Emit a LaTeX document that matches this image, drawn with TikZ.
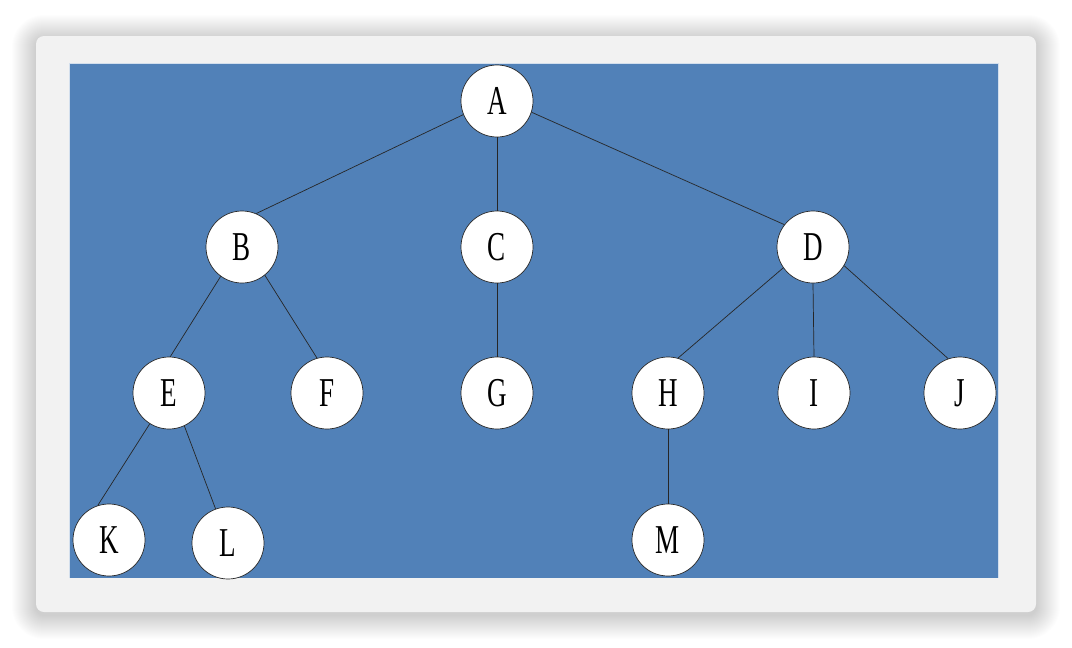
\documentclass[tikz,border=0pt]{standalone}
\usepackage{fontspec}
\setmainfont{Liberation Serif}
\definecolor{panelblue}{HTML}{5181B8}
\definecolor{cardgray}{HTML}{F2F2F2}
\begin{document}
\begin{tikzpicture}[x=1pt,y=-1pt,
  tnode/.style={circle,fill=white,draw=black!85,line width=0.7pt,minimum size=72pt,inner sep=0pt,
    font=\fontsize{41}{41}\selectfont},
  tedge/.style={draw=black!85,line width=0.7pt}]
\useasboundingbox[fill=white] (0,0) rectangle (1072,648);
% soft shadow
\foreach \i in {1,...,24}{
  \fill[black,opacity=0.0065,rounded corners=8pt+\i pt] (36-\i,39-\i) rectangle (1036+\i,615+\i);
}
\fill[cardgray,rounded corners=8pt] (36,36) rectangle (1036,612);
\fill[panelblue] (69,63) rectangle (998,578);
\draw[white!75!panelblue,line width=0.8pt] (69,578) -- (69,63) -- (998,63) -- (998,578);
% nodes
\newcommand{\lbl}[1]{\scalebox{0.66}[1]{#1}}
\node[tnode] (A) at (497,101) {\lbl{A}};
\node[tnode] (B) at (242,247) {\lbl{B}};
\node[tnode] (C) at (497,247) {\lbl{C}};
\node[tnode] (D) at (813,247) {\lbl{D}};
\node[tnode] (E) at (169,393) {\lbl{E}};
\node[tnode] (F) at (327,393) {\lbl{F}};
\node[tnode] (G) at (497,393) {\lbl{G}};
\node[tnode] (H) at (668,393) {\lbl{H}};
\node[tnode] (I) at (814,393) {\lbl{I}};
\node[tnode] (J) at (960,393) {\lbl{J}};
\node[tnode] (K) at (109,540) {\lbl{K}};
\node[tnode] (L) at (228,543) {\lbl{L}};
\node[tnode] (M) at (668,540) {\lbl{M}};
% edges
\draw[tedge] (A.202) -- (B.67);
\draw[tedge] (A) -- (C);
\draw[tedge] (A.-18) -- (D.142);
\draw[tedge] (B.234) -- (E.88);
\draw[tedge] (B.-51) -- (F.106);
\draw[tedge] (C) -- (G);
\draw[tedge] (D.215) -- (H.74);
\draw[tedge] (D.-90) -- (I.90);
\draw[tedge] (D.-31) -- (J.109);
\draw[tedge] (E.238) -- (K.108);
\draw[tedge] (E.-65) -- (L.110);
\draw[tedge] (H) -- (M);
\end{tikzpicture}
\end{document}
